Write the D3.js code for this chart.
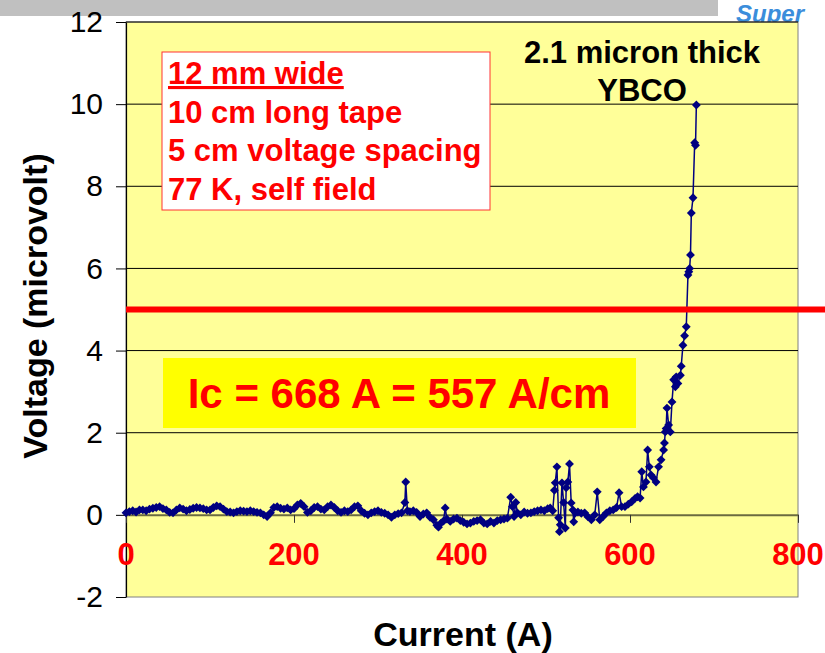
<!DOCTYPE html>
<html>
<head>
<meta charset="utf-8">
<script src="https://cdn.jsdelivr.net/npm/d3@7"></script>
<style>
  body { margin: 0; background: #fff; }
  text { font-family: "Liberation Sans", Arial, sans-serif; }
</style>
</head>
<body>
<svg id="chart"></svg>
<script>
// V-I curve of the YBCO tape
const currentA = [
  0, 4, 8, 12, 16, 20, 24, 28, 32, 36, 40, 44, 48, 52, 56, 60, 64, 68, 72, 76,
  80, 84, 88, 92, 96, 100, 104, 108, 112, 116, 120, 124, 128, 132, 136, 140, 144, 148, 152, 156,
  160, 164, 168, 172, 176, 180, 184, 188, 192, 196, 200, 204, 208, 212, 216, 220, 224, 228, 232, 236,
  240, 244, 248, 252, 256, 260, 264, 268, 272, 276, 280, 284, 288, 292, 296, 300, 304, 308, 312, 316,
  320, 324, 328, 332, 333, 335, 338, 342, 346, 350, 354, 358, 362, 366, 370, 372, 375, 378, 380, 382,
  386, 390, 394, 398, 402, 406, 410, 414, 418, 422, 426, 430, 434, 438, 442, 446, 450, 454, 458, 460,
  462, 464, 466, 470, 474, 478, 482, 486, 490, 494, 498, 502, 505, 508, 510, 511, 513, 515, 516, 517,
  519, 521, 523, 524, 526, 528, 530, 532, 533, 535, 538, 542, 546, 550, 554, 558, 561, 564, 568, 572,
  576, 580, 584, 587, 590, 594, 598, 602, 606, 609, 612, 614, 616, 619, 621, 623, 625, 628, 631, 634,
  637, 640, 641, 642, 643, 644, 646, 648, 650, 652, 654, 655, 657, 660, 661, 663, 665, 667, 669, 670,
  671, 672, 673, 675, 677, 678, 679
];
const voltageUV = [
  0.05, 0.08, 0.10, 0.07, 0.12, 0.12, 0.10, 0.14, 0.16, 0.18, 0.20, 0.15, 0.12, 0.06, 0.05, 0.12, 0.17, 0.14, 0.10, 0.13,
  0.16, 0.18, 0.17, 0.15, 0.12, 0.12, 0.18, 0.22, 0.20, 0.14, 0.08, 0.07, 0.05, 0.08, 0.10, 0.09, 0.08, 0.10, 0.08, 0.06,
  0.05, 0.00, -0.04, 0.05, 0.18, 0.20, 0.16, 0.14, 0.17, 0.12, 0.15, 0.24, 0.28, 0.20, 0.06, 0.10, 0.18, 0.20, 0.14, 0.12,
  0.20, 0.24, 0.18, 0.10, 0.06, 0.10, 0.08, 0.12, 0.20, 0.22, 0.10, 0.04, 0.00, 0.05, 0.08, 0.10, 0.06, 0.04, 0.00, -0.06,
  0.00, 0.03, 0.05, 0.30, 0.80, 0.10, 0.08, 0.10, 0.06, -0.04, 0.02, 0.05, -0.06, -0.12, -0.25, -0.30, -0.20, -0.15, 0.17, -0.10,
  -0.16, -0.10, -0.08, -0.14, -0.18, -0.22, -0.20, -0.16, -0.14, -0.12, -0.20, -0.22, -0.16, -0.20, -0.14, -0.12, -0.10, -0.08, 0.43, 0.20,
  -0.04, 0.30, 0.05, 0.00, 0.07, 0.04, 0.05, 0.08, 0.10, 0.12, 0.10, 0.15, 0.17, 0.10, 0.60, 0.78, 1.17, -0.07, -0.41, -0.24,
  0.78, 0.30, -0.32, 0.66, 0.80, 1.24, 0.29, 0.12, -0.17, 0.05, 0.07, 0.04, 0.05, -0.05, -0.12, 0.00, 0.56, -0.12, -0.04, 0.05,
  0.10, 0.12, 0.18, 0.54, 0.20, 0.20, 0.26, 0.32, 0.40, 0.44, 0.41, 1.05, 0.68, 0.80, 1.58, 1.17, 0.97, 0.90, 0.80, 1.17,
  1.34, 1.58, 1.75, 2.02, 2.10, 2.60, 2.19, 2.02, 2.75, 3.29, 3.12, 3.36, 3.20, 3.40, 3.62, 4.13, 4.36, 4.58, 5.84, 5.92,
  6.00, 6.33, 7.35, 7.72, 9.06, 9.00, 9.98
];

const xTicks = [0, 200, 400, 600, 800];
const yTicks = [-2, 0, 2, 4, 6, 8, 10, 12];
const criterionUV = 5;

const infoLines = ['12 mm wide', '10 cm long tape', '5 cm voltage spacing', '77 K, self field'];
const titleLines = ['2.1 micron thick', 'YBCO'];
const icLabel = 'Ic = 668 A = 557 A/cm';

const data = currentA.map((c, i) => ({ current: c, voltage: voltageUV[i] }));

const config = {
  containerWidth: 825,
  containerHeight: 653,
  margin: { top: 22, right: 27, bottom: 56, left: 126 }
};
const width = config.containerWidth - config.margin.left - config.margin.right;
const height = config.containerHeight - config.margin.top - config.margin.bottom;

const svg = d3.select('#chart')
  .attr('width', config.containerWidth)
  .attr('height', config.containerHeight);

// slide header strip and the logo in the corner
svg.append('rect')
  .attr('x', 0).attr('y', 0)
  .attr('width', 718).attr('height', 16)
  .attr('fill', '#c0c0c0');
svg.append('text')
  .attr('x', 736).attr('y', 22)
  .attr('font-size', 24)
  .attr('font-weight', 'bold')
  .attr('font-style', 'italic')
  .attr('fill', '#3b8ddb')
  .text('Super');

const chart = svg.append('g')
  .attr('transform', `translate(${config.margin.left},${config.margin.top})`);

const xScale = d3.scaleLinear().domain([0, 800]).range([0, width]);
const yScale = d3.scaleLinear().domain([-2, 12]).range([height, 0]);

// plot area
chart.append('rect')
  .attr('width', width).attr('height', height)
  .attr('fill', '#ffff99')
  .attr('stroke', '#808080')
  .attr('stroke-width', 1);

// horizontal gridlines
chart.append('g')
  .selectAll('line')
  .data(yTicks.filter(t => t > 0))
  .join('line')
  .attr('x1', 0).attr('x2', width)
  .attr('y1', d => yScale(d)).attr('y2', d => yScale(d))
  .attr('stroke', '#000')
  .attr('stroke-width', 1);

// y axis
const yAxis = d3.axisLeft(yScale)
  .tickValues(yTicks)
  .tickSize(10)
  .tickPadding(13)
  .tickFormat(d => String(d))
  .tickSizeOuter(0);
const yAxisG = chart.append('g').call(yAxis);
yAxisG.select('.domain').attr('stroke', '#000').attr('stroke-width', 1.2);
yAxisG.selectAll('text')
  .attr('font-family', '"Liberation Sans", Arial, sans-serif')
  .attr('font-size', 30)
  .attr('fill', '#000');

// x axis sits on the zero line, labels drawn lower inside the plot
const xAxis = d3.axisBottom(xScale)
  .tickValues(xTicks)
  .tickSize(8)
  .tickFormat('')
  .tickSizeOuter(0);
const xAxisG = chart.append('g')
  .attr('transform', `translate(0,${yScale(0)})`)
  .call(xAxis);
xAxisG.select('.domain').attr('stroke', '#6b6b40').attr('stroke-width', 2);
xAxisG.selectAll('.tick line').attr('stroke', '#333');

// data
const line = d3.line()
  .x(d => xScale(d.current))
  .y(d => yScale(d.voltage));

chart.append('path')
  .datum(data)
  .attr('fill', 'none')
  .attr('stroke', '#000080')
  .attr('stroke-width', 1.5)
  .attr('d', line);

const diamond = d3.symbol().type(d3.symbolDiamond2 || d3.symbolDiamond).size(50);
chart.append('g')
  .selectAll('path')
  .data(data)
  .join('path')
  .attr('d', diamond)
  .attr('transform', d => `translate(${xScale(d.current)},${yScale(d.voltage)})`)
  .attr('fill', '#000080');

// x tick labels in red, over the plot
chart.append('g')
  .selectAll('text')
  .data(xTicks)
  .join('text')
  .attr('x', d => xScale(d))
  .attr('y', yScale(-1) + 9)
  .attr('text-anchor', 'middle')
  .attr('font-size', 31)
  .attr('font-weight', 'bold')
  .attr('fill', '#ff0000')
  .text(d => d);

// 5 microvolt criterion line, runs to the slide edge
svg.append('line')
  .attr('x1', config.margin.left)
  .attr('x2', config.containerWidth)
  .attr('y1', config.margin.top + yScale(criterionUV))
  .attr('y2', config.margin.top + yScale(criterionUV))
  .attr('stroke', '#ff0000')
  .attr('stroke-width', 6);

// sample description box
chart.append('rect')
  .attr('x', 36).attr('y', 30)
  .attr('width', 328).attr('height', 158)
  .attr('fill', '#fff')
  .attr('stroke', '#ff3333')
  .attr('stroke-width', 1);
chart.append('g')
  .selectAll('text')
  .data(infoLines)
  .join('text')
  .attr('x', 42)
  .attr('y', (d, i) => 62 + i * 38.5)
  .attr('font-size', 31)
  .attr('font-weight', 'bold')
  .attr('fill', '#ff0000')
  .attr('text-decoration', (d, i) => i === 0 ? 'underline' : null)
  .text(d => d);

chart.append('g')
  .selectAll('text')
  .data(titleLines)
  .join('text')
  .attr('x', 516)
  .attr('y', (d, i) => 41 + i * 38)
  .attr('text-anchor', 'middle')
  .attr('font-size', 31)
  .attr('font-weight', 'bold')
  .attr('fill', '#000')
  .text(d => d);

// critical current callout
chart.append('rect')
  .attr('x', 37).attr('y', 336)
  .attr('width', 473).attr('height', 70)
  .attr('fill', '#ffff00');
chart.append('text')
  .attr('x', 273).attr('y', 386)
  .attr('text-anchor', 'middle')
  .attr('font-size', 42)
  .attr('font-weight', 'bold')
  .attr('fill', '#ff0000')
  .text(icLabel);

// axis titles
svg.append('text')
  .attr('transform', 'translate(47,306) rotate(-90)')
  .attr('text-anchor', 'middle')
  .attr('font-size', 34)
  .attr('font-weight', 'bold')
  .attr('fill', '#000')
  .text('Voltage (microvolt)');

svg.append('text')
  .attr('x', 463).attr('y', 646)
  .attr('text-anchor', 'middle')
  .attr('font-size', 34)
  .attr('font-weight', 'bold')
  .attr('fill', '#000')
  .text('Current (A)');
</script>
</body>
</html>
